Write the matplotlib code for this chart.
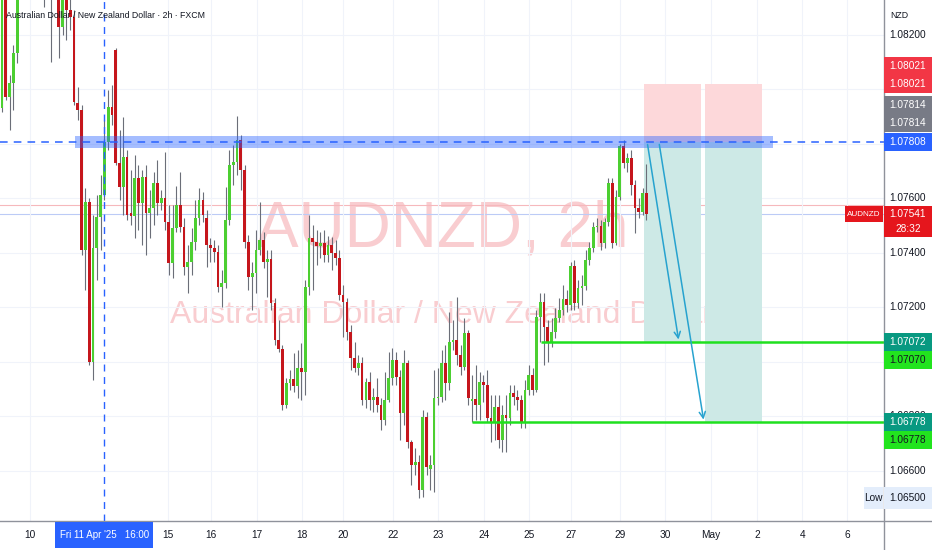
import matplotlib
matplotlib.use('Agg')
import matplotlib.pyplot as plt
from matplotlib import font_manager
from matplotlib.patches import Rectangle
import numpy as np

W, H = 932, 550
names = {f.name for f in font_manager.fontManager.ttflist}
BASE = 'Liberation Sans' if 'Liberation Sans' in names else 'DejaVu Sans'
NARROW = 'Liberation Sans Narrow' if 'Liberation Sans Narrow' in names else None
plt.rcParams['font.family'] = [BASE, 'DejaVu Sans']

# ---------------- data (AUDNZD, 2h candles) ----------------
opens = [
    1.07932, 1.08346, 1.07972, 1.08023, 1.08133, 1.08401, 1.08622, 1.08695, 1.08585, 1.08658,
    1.08548, 1.08475, 1.08401, 1.08456, 1.08383, 1.08438, 1.08229, 1.08346, 1.08291, 1.08266,
    1.07950, 1.07924, 1.07411, 1.07587, 1.07000, 1.07418, 1.07532, 1.07612, 1.07807, 1.07935,
    1.08145, 1.07730, 1.07642, 1.07752, 1.07546, 1.07535, 1.07675, 1.07583, 1.07678, 1.07546,
    1.07565, 1.07656, 1.07583, 1.07601, 1.07513, 1.07363, 1.07491, 1.07576, 1.07495, 1.07348,
    1.07366, 1.07440, 1.07528, 1.07594, 1.07528, 1.07429, 1.07418, 1.07403, 1.07275, 1.07289,
    1.07521, 1.07722, 1.07733, 1.07814, 1.07704, 1.07440, 1.07312, 1.07326, 1.07411, 1.07447,
    1.07366, 1.07377, 1.07216, 1.07080, 1.07047, 1.06842, 1.06922, 1.06937, 1.06911, 1.06977,
    1.06963, 1.07275, 1.07455, 1.07440, 1.07425, 1.07436, 1.07392, 1.07429, 1.07400, 1.07381,
    1.07245, 1.07220, 1.07110, 1.07014, 1.06977, 1.06996, 1.06860, 1.06926, 1.06860, 1.06871,
    1.06842, 1.06787, 1.06860, 1.06941, 1.07007, 1.06944, 1.06812, 1.06996, 1.06706, 1.06621,
    1.06632, 1.06530, 1.06798, 1.06607, 1.06621, 1.06867, 1.06871, 1.06996, 1.06922, 1.07073,
    1.07080, 1.07025, 1.06981, 1.07106, 1.06856, 1.06864, 1.06842, 1.06926, 1.06915, 1.06794,
    1.06779, 1.06834, 1.06713, 1.06805, 1.06794, 1.06886, 1.06871, 1.06860, 1.06776, 1.06897,
    1.06952, 1.06897, 1.07165, 1.07220, 1.07128, 1.07069, 1.07110, 1.07161, 1.07190, 1.07231,
    1.07209, 1.07352, 1.07216, 1.07271, 1.07278, 1.07374, 1.07418, 1.07495, 1.07499, 1.07436,
    1.07513, 1.07656, 1.07436, 1.07605, 1.07792, 1.07730, 1.07748, 1.07649, 1.07565, 1.07550,
    1.07620,
]
highs = [
    1.08475, 1.08438, 1.08053, 1.08163, 1.08512, 1.08732, 1.08805, 1.08768, 1.08768, 1.08695,
    1.08622, 1.08548, 1.08512, 1.08493, 1.08512, 1.08493, 1.08401, 1.08401, 1.08365, 1.08291,
    1.08009, 1.07943, 1.07638, 1.07601, 1.07539, 1.07612, 1.07686, 1.07888, 1.07998, 1.08016,
    1.08152, 1.07851, 1.07899, 1.07778, 1.07704, 1.07759, 1.07722, 1.07704, 1.07722, 1.07631,
    1.07697, 1.07741, 1.07631, 1.07770, 1.07576, 1.07576, 1.07645, 1.07697, 1.07528, 1.07429,
    1.07491, 1.07594, 1.07638, 1.07623, 1.07557, 1.07455, 1.07447, 1.07429, 1.07337, 1.07642,
    1.07778, 1.07796, 1.07902, 1.07833, 1.07722, 1.07466, 1.07367, 1.07484, 1.07587, 1.07477,
    1.07411, 1.07411, 1.07234, 1.07154, 1.07062, 1.06941, 1.06970, 1.07033, 1.07044, 1.07069,
    1.07300, 1.07539, 1.07502, 1.07484, 1.07477, 1.07484, 1.07462, 1.07458, 1.07447, 1.07411,
    1.07282, 1.07234, 1.07135, 1.07073, 1.07025, 1.07018, 1.06941, 1.06963, 1.06904, 1.06941,
    1.06867, 1.06963, 1.07036, 1.07051, 1.07036, 1.06970, 1.07044, 1.07007, 1.06713, 1.06684,
    1.06658, 1.06823, 1.06816, 1.06658, 1.06970, 1.06977, 1.07044, 1.07062, 1.07183, 1.07154,
    1.07238, 1.07062, 1.07161, 1.07117, 1.06952, 1.06988, 1.06963, 1.06952, 1.06970, 1.06878,
    1.06878, 1.06878, 1.06842, 1.06878, 1.06915, 1.06915, 1.06897, 1.06878, 1.06933, 1.06988,
    1.06977, 1.07190, 1.07253, 1.07253, 1.07154, 1.07161, 1.07198, 1.07234, 1.07282, 1.07264,
    1.07367, 1.07374, 1.07300, 1.07319, 1.07411, 1.07440, 1.07513, 1.07528, 1.07521, 1.07528,
    1.07675, 1.07675, 1.07631, 1.07800, 1.07814, 1.07766, 1.07778, 1.07667, 1.07601, 1.07638,
    1.07726,
]
lows = [
    1.07917, 1.07961, 1.07851, 1.07924, 1.08097, 1.08383, 1.08548, 1.08512, 1.08512, 1.08438,
    1.08383, 1.08302, 1.08346, 1.08100, 1.08346, 1.08115, 1.08200, 1.08181, 1.08218, 1.07943,
    1.07888, 1.07392, 1.07264, 1.06988, 1.06933, 1.07300, 1.07411, 1.07594, 1.07778, 1.07869,
    1.07723, 1.07594, 1.07539, 1.07521, 1.07502, 1.07455, 1.07484, 1.07429, 1.07392, 1.07455,
    1.07502, 1.07539, 1.07557, 1.07484, 1.07319, 1.07308, 1.07477, 1.07477, 1.07319, 1.07253,
    1.07319, 1.07411, 1.07502, 1.07513, 1.07348, 1.07366, 1.07366, 1.07256, 1.07201, 1.07271,
    1.07502, 1.07649, 1.07686, 1.07631, 1.07418, 1.07264, 1.07190, 1.07253, 1.07392, 1.07344,
    1.07238, 1.07190, 1.07062, 1.07036, 1.06823, 1.06831, 1.06897, 1.06889, 1.06867, 1.06860,
    1.06878, 1.07245, 1.07264, 1.07355, 1.07381, 1.07366, 1.07366, 1.07337, 1.07355, 1.07227,
    1.07091, 1.07080, 1.06970, 1.06963, 1.06952, 1.06842, 1.06831, 1.06823, 1.06816, 1.06816,
    1.06750, 1.06768, 1.06853, 1.06915, 1.06915, 1.06713, 1.06768, 1.06684, 1.06548, 1.06585,
    1.06500, 1.06504, 1.06585, 1.06530, 1.06522, 1.06842, 1.06853, 1.06860, 1.06897, 1.07044,
    1.06988, 1.06952, 1.06970, 1.06842, 1.06778, 1.06787, 1.06787, 1.06853, 1.06779, 1.06706,
    1.06713, 1.06684, 1.06669, 1.06669, 1.06768, 1.06842, 1.06823, 1.06757, 1.06757, 1.06878,
    1.06878, 1.06889, 1.07072, 1.06988, 1.07000, 1.07055, 1.07088, 1.07146, 1.07172, 1.07183,
    1.07190, 1.07190, 1.07198, 1.07209, 1.07264, 1.07355, 1.07403, 1.07477, 1.07411, 1.07418,
    1.07499, 1.07418, 1.07429, 1.07594, 1.07711, 1.07697, 1.07612, 1.07473, 1.07528, 1.07539,
    1.07521,
]
closes = [
    1.08365, 1.07972, 1.08023, 1.08133, 1.08401, 1.08622, 1.08695, 1.08585, 1.08658, 1.08548,
    1.08475, 1.08401, 1.08456, 1.08383, 1.08438, 1.08229, 1.08346, 1.08291, 1.08266, 1.07954,
    1.07924, 1.07411, 1.07587, 1.07000, 1.07418, 1.07532, 1.07612, 1.07807, 1.07935, 1.07906,
    1.07730, 1.07642, 1.07752, 1.07539, 1.07535, 1.07675, 1.07583, 1.07678, 1.07546, 1.07565,
    1.07656, 1.07583, 1.07601, 1.07513, 1.07363, 1.07491, 1.07576, 1.07495, 1.07348, 1.07366,
    1.07440, 1.07528, 1.07594, 1.07539, 1.07429, 1.07418, 1.07403, 1.07275, 1.07289, 1.07521,
    1.07722, 1.07733, 1.07814, 1.07704, 1.07440, 1.07312, 1.07326, 1.07411, 1.07447, 1.07366,
    1.07377, 1.07216, 1.07080, 1.07047, 1.06842, 1.06922, 1.06937, 1.06911, 1.06977, 1.06963,
    1.07275, 1.07455, 1.07440, 1.07425, 1.07436, 1.07392, 1.07429, 1.07400, 1.07381, 1.07245,
    1.07220, 1.07110, 1.07014, 1.06977, 1.06996, 1.06860, 1.06926, 1.06860, 1.06871, 1.06842,
    1.06787, 1.06860, 1.06941, 1.07007, 1.06944, 1.06812, 1.06996, 1.06706, 1.06621, 1.06632,
    1.06530, 1.06798, 1.06614, 1.06621, 1.06867, 1.06871, 1.06996, 1.06922, 1.07073, 1.07080,
    1.07025, 1.06981, 1.07106, 1.06867, 1.06864, 1.06842, 1.06926, 1.06915, 1.06794, 1.06779,
    1.06834, 1.06713, 1.06805, 1.06794, 1.06886, 1.06871, 1.06860, 1.06776, 1.06897, 1.06952,
    1.06897, 1.07165, 1.07220, 1.07128, 1.07069, 1.07110, 1.07161, 1.07190, 1.07231, 1.07209,
    1.07352, 1.07216, 1.07271, 1.07278, 1.07374, 1.07418, 1.07495, 1.07499, 1.07436, 1.07513,
    1.07656, 1.07436, 1.07605, 1.07792, 1.07730, 1.07748, 1.07649, 1.07565, 1.07550, 1.07620,
    1.07541,
]

time_tick_labels = ['10', '15', '16', '17', '18', '20', '22', '23', '24', '25', '27',
                    '29', '30', 'May', '2', '4', '6']
time_tick_pos = [7.4, 43.8, 55.1, 67.3, 79.2, 90.0, 103.2, 115.0, 127.2, 139.0, 150.1,
                 163.1, 175.0, 187.1, 199.2, 211.1, 223.0]
price_ticks = [1.082, 1.080, 1.078, 1.076, 1.074, 1.072, 1.070, 1.068, 1.066]
# tick labels that TradingView hides behind the coloured price labels
hidden_ticks = [1.080, 1.078, 1.070]

zone_low, zone_high = 1.07785, 1.07829
entry = 1.07808
stop = 1.08021
tp1, tp1_label = 1.07072, 1.07070
tp2 = 1.06778
last_price = 1.07541
prev_line = 1.07576
pos_high = 1.07814
session_low = 1.06500
cross_idx = 27

# ---------------- figure ----------------
fig = plt.figure(figsize=(W / 100, H / 100), dpi=100)
fig.patch.set_facecolor('white')
ax = fig.add_axes([0, 29 / H, 884 / W, 521 / H])
ax.set_xlim(-0.53, 232.7)
ax.set_ylim(1.06416, 1.08328)
ax.set_facecolor('white')

# grid
ax.set_yticks(price_ticks)
ax.set_yticklabels([])
ax.tick_params(axis='y', length=0)
ax.set_xticks(time_tick_pos)
ax.set_xticklabels(time_tick_labels, fontsize=7.3, color='#131722')
ax.tick_params(axis='x', length=0, pad=6.5)
ax.grid(True, color='#f0f3fa', lw=0.8, zorder=0)
for s in ['top', 'left', 'right', 'bottom']:
    ax.spines[s].set_visible(False)

# watermark
wm_font = NARROW if NARROW else BASE
ax.text(0.5, 0.526, 'AUDNZD, 2h', transform=ax.transAxes, ha='center', va='baseline',
        fontsize=58 if NARROW else 46, color='#f9cdd0', family=wm_font, zorder=1)
ax.text(0.5, 0.38, 'Australian Dollar / New Zealand Dollar', transform=ax.transAxes,
        ha='center', va='baseline', fontsize=28 if NARROW else 23, color='#f9cdd0',
        family=wm_font, zorder=1)

# thin price lines
ax.axhline(prev_line, color='#f6b8bc', lw=0.8, zorder=1.5)
ax.axhline(last_price, color='#bccbf6', lw=0.8, zorder=1.5)

# position boxes
RED_A = '#fdd8da'
TEAL_A = '#cde9e6'
ax.add_patch(Rectangle((169.4, entry), 15.0, stop - entry, color=RED_A, lw=0, zorder=1.8))
ax.add_patch(Rectangle((185.5, entry), 15.0, stop - entry, color=RED_A, lw=0, zorder=1.8))
ax.add_patch(Rectangle((169.4, tp1), 15.0, entry - tp1, color=TEAL_A, lw=0, zorder=1.8))
ax.add_patch(Rectangle((185.5, tp2), 15.0, entry - tp2, color=TEAL_A, lw=0, zorder=1.8))

# candles
idx = np.arange(len(closes))
o = np.array(opens); c = np.array(closes); hi = np.array(highs); lo = np.array(lows)
GREEN, RED, WICK = '#4ccf31', '#c5161c', '#6b6e78'
cols = np.where(c >= o, GREEN, RED)
ax.vlines(idx, lo, hi, color=WICK, lw=0.8, zorder=3)
ax.bar(idx, np.maximum(np.abs(c - o), 0.00003), bottom=np.minimum(o, c), width=0.72,
       color=cols, lw=0, zorder=4)

# zone + entry line
ax.add_patch(Rectangle((19.3, zone_low), 184.1, zone_high - zone_low, color='#2962ff',
                       alpha=0.42, lw=0, zorder=5))
ax.axhline(entry, color='#2962ff', lw=1.1, ls=(0, (5, 4)), zorder=6)
ax.axvline(cross_idx, color='#2962ff', lw=1.0, ls=(0, (5, 4)), zorder=6)

# target lines
ax.hlines(tp1, 142.2, 240, color='#1fe01f', lw=1.8, zorder=6)
ax.hlines(tp2, 124.0, 240, color='#1fe01f', lw=1.8, zorder=6)

# arrows
ARC = '#27a3cf'
ax.annotate('', xy=(178.6, tp1), xytext=(170.2, entry),
            arrowprops=dict(arrowstyle='->', color=ARC, lw=1.1, mutation_scale=11), zorder=7)
ax.annotate('', xy=(185.2, tp2), xytext=(173.3, entry),
            arrowprops=dict(arrowstyle='->', color=ARC, lw=1.1, mutation_scale=11), zorder=7)

# ---------------- overlay (pixel space) for axis labels ----------------
ov = fig.add_axes([0, 0, 1, 1], zorder=10)
ov.set_xlim(0, W)
ov.set_ylim(H, 0)
ov.axis('off')


def ypx(p):
    return H - ax.transData.transform((0, p))[1]


def xpx(i):
    return ax.transData.transform((i, 0))[0]


# axis border lines
ov.plot([0, W], [521, 521], color='#8f929b', lw=1)
ov.plot([884, 884], [0, H], color='#8f929b', lw=1)

# title
ov.text(6, 15, 'Australian Dollar / New Zealand Dollar · 2h · FXCM', fontsize=6.3,
        va='center', ha='left', color='#131722')
ov.text(890, 15, 'NZD', fontsize=6.3, va='center', ha='left', color='#131722')

AX_FS = 7.3
y2 = ypx(tp2)
for p in price_ticks:
    if any(abs(p - q) < 1e-9 for q in hidden_ticks):
        continue
    t = ov.text(908, ypx(p), f'{p:.5f}', fontsize=AX_FS, ha='center', va='center',
                color='#131722', zorder=1)
    if abs(p - 1.068) < 1e-9:
        # only the top sliver peeks out above the target label
        clip = Rectangle((884, ypx(p) - 12), 48, (y2 - 9) - (ypx(p) - 12),
                         transform=ov.transData)
        t.set_clip_path(clip)


def row(y, color, text, tcolor='white', x0=884, x1=W, fs=AX_FS, h=18):
    ov.add_patch(Rectangle((x0, y - h / 2), x1 - x0, h, color=color, lw=0, zorder=3))
    ov.text((x0 + x1) / 2, y, text, fontsize=fs, ha='center', va='center', color=tcolor,
            zorder=4)


ys = ypx(stop)
row(ys - 18, '#f23645', f'{stop:.5f}')
row(ys, '#f23645', f'{stop:.5f}')
ye = ypx(entry)
row(ye - 37, '#787b86', f'{pos_high:.5f}')
row(ye - 19, '#787b86', f'{pos_high:.5f}')
row(ye, '#2962ff', f'{entry:.5f}')

yp = ypx(last_price)
ov.add_patch(Rectangle((884, yp - 8), 48, 31, color='#e5161d', lw=0, zorder=3))
ov.text(908, yp, f'{last_price:.5f}', fontsize=AX_FS, ha='center', va='center',
        color='white', zorder=4)
ov.text(908, yp + 15, '28:32', fontsize=AX_FS, ha='center', va='center', color='white',
        zorder=4)
row(yp, '#e5161d', 'AUDNZD', x0=845, x1=883, fs=5.9, h=16)

y1 = ypx(tp1)
row(y1, '#089981', f'{tp1:.5f}')
row(y1 + 18, '#22e41e', f'{tp1_label:.5f}', tcolor='#131722')
row(y2, '#089981', f'{tp2:.5f}')
row(y2 + 18, '#22e41e', f'{tp2:.5f}', tcolor='#131722')

yl = ypx(session_low)
row(yl, '#e3edfb', f'{session_low:.5f}', tcolor='#131722', h=22)
row(yl, '#e3edfb', 'Low', tcolor='#131722', x0=864, x1=883, h=22)

# crosshair time label
xc = xpx(cross_idx)
ov.add_patch(Rectangle((xc - 49, 522), 98, 26, color='#2962ff', lw=0, zorder=3))
ov.text(xc, 535, "Fri 11 Apr '25   16:00", fontsize=7.0, ha='center', va='center',
        color='white', zorder=4)

fig.savefig('out.png', dpi=100)
